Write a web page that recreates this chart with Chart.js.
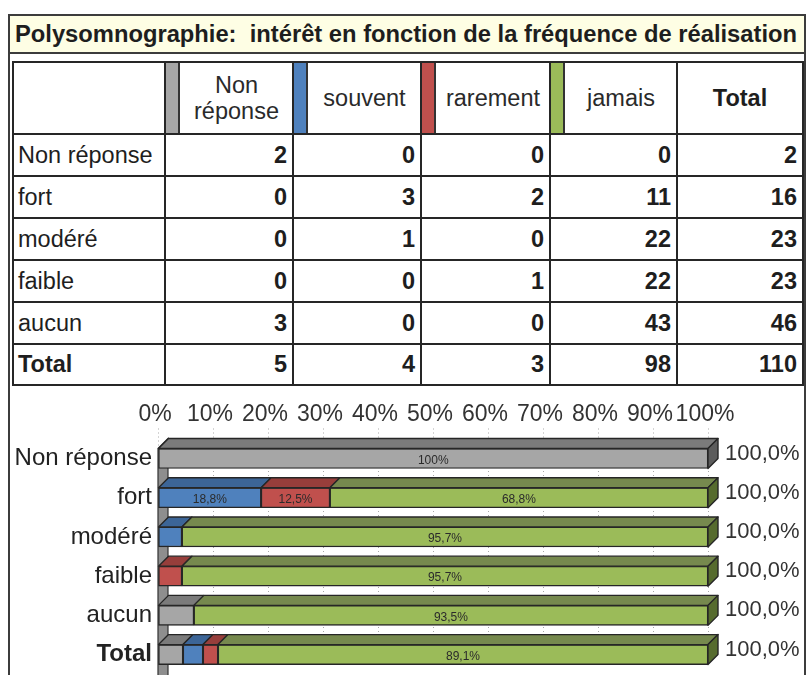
<!DOCTYPE html>
<html>
<head>
<meta charset="utf-8">
<script src="https://cdn.jsdelivr.net/npm/chart.js@4.4.1/dist/chart.umd.min.js"></script>
<style>
  html,body{margin:0;padding:0;background:#fff;}
  body{width:808px;height:675px;overflow:hidden;position:relative;font-family:"Liberation Sans",Arial,sans-serif;color:#1e1e1e;}
  #frame{position:absolute;left:8px;top:14px;width:798px;height:720px;border:2px solid #3c3c3c;border-bottom:none;box-sizing:border-box;}
  #titlebar{position:absolute;left:10px;top:16px;width:794px;height:36px;background:#FEFEE4;border-bottom:2px solid #3c3c3c;}
  #title{position:absolute;left:5px;top:0;height:36px;line-height:36px;white-space:pre;font-family:"Liberation Sans Narrow","Arial Narrow","Liberation Sans",Arial,sans-serif;font-weight:bold;font-size:23px;color:#1e1e1e;transform-origin:0 50%;}
  .ln{position:absolute;background:#262626;}
  .cell{position:absolute;display:flex;align-items:center;font-size:23.5px;white-space:nowrap;}
  .hdr{justify-content:center;text-align:center;line-height:26px;color:#2a2a2a;}
  .num{justify-content:flex-end;font-weight:bold;}
  .key{position:absolute;border-right:2px solid #333;box-sizing:border-box;}
  #chartWrap{position:absolute;left:0;top:390px;width:808px;height:285px;}
</style>
</head>
<body>
<div id="frame"></div>
<div id="titlebar"><div id="title">Polysomnographie:  intérêt en fonction de la fréquence de réalisation</div></div>
<div id="table"></div>
<div id="chartWrap"><canvas id="c" width="808" height="285"></canvas></div>
<script>
// ---- data ----
const categories = ['Non réponse', 'fort', 'modéré', 'faible', 'aucun', 'Total'];
const seriesNames = ['Non réponse', 'souvent', 'rarement', 'jamais'];
const headerLabels = ['Non<br>réponse', 'souvent', 'rarement', 'jamais', 'Total'];
const nonReponse = [2, 0, 0, 0, 3, 5];
const souvent    = [0, 3, 1, 0, 0, 4];
const rarement   = [0, 2, 0, 1, 0, 3];
const jamais     = [0, 11, 22, 22, 43, 98];
const totals     = [2, 16, 23, 23, 46, 110];
const seriesValues = [nonReponse, souvent, rarement, jamais];

// ---- styles ----
const frontColors = ['#A6A6A6', '#4F81BD', '#C0504D', '#9BBB59'];
const topColors   = ['#7B7B7B', '#3C6597', '#973E3B', '#76894E'];
const sideColors  = ['#5C5C5C', '#2D4D73', '#712E2C', '#566B2E'];

// ---- title fit ----
const t = document.getElementById('title');
const tw = t.getBoundingClientRect().width;
t.style.transform = 'scaleX(' + (782 / tw) + ')';

// ---- table ----
const colX = [13, 165, 293, 421, 550, 677, 803];
const rowY = [62, 134, 176, 218, 260, 302, 344, 385];
const tbl = document.getElementById('table');
function add(cls, css, html) {
  const d = document.createElement('div');
  d.className = cls;
  Object.assign(d.style, css);
  if (html !== undefined) d.innerHTML = html;
  tbl.appendChild(d);
  return d;
}
for (let s = 0; s < seriesNames.length; s++) {
  add('key', {left: (colX[s + 1] + 1) + 'px', top: (rowY[0] + 1) + 'px', width: '14px',
    height: (rowY[1] - rowY[0] - 2) + 'px', background: frontColors[s]});
  add('cell hdr', {left: (colX[s + 1] + 15) + 'px', top: rowY[0] + 'px',
    width: (colX[s + 2] - colX[s + 1] - 15) + 'px', height: (rowY[1] - rowY[0]) + 'px'}, headerLabels[s]);
}
add('cell hdr', {left: colX[5] + 'px', top: rowY[0] + 'px', width: (colX[6] - colX[5]) + 'px',
  height: (rowY[1] - rowY[0]) + 'px', fontWeight: 'bold', color: '#1e1e1e'}, headerLabels[4]);
for (let r = 0; r < categories.length; r++) {
  const top = rowY[r + 1], h = rowY[r + 2] - rowY[r + 1];
  add('cell', {left: (colX[0] + 5) + 'px', top: top + 'px', height: h + 'px',
    fontWeight: r === categories.length - 1 ? 'bold' : 'normal'}, categories[r]);
  const vals = seriesValues.map(a => a[r]).concat([totals[r]]);
  vals.forEach((v, c) => {
    add('cell num', {left: colX[c + 1] + 'px', top: top + 'px', width: (colX[c + 2] - colX[c + 1] - 6) + 'px',
      height: h + 'px'}, String(v));
  });
}
colX.forEach(x => add('ln', {left: (x - 1) + 'px', top: (rowY[0] - 1) + 'px', width: '2px',
  height: (rowY[rowY.length - 1] - rowY[0] + 2) + 'px'}));
rowY.forEach(y => add('ln', {left: (colX[0] - 1) + 'px', top: (y - 1) + 'px',
  width: (colX[colX.length - 1] - colX[0] + 2) + 'px', height: '2px'}));

// ---- chart ----
const pct = seriesValues.map(arr => arr.map((v, i) => v / totals[i] * 100));
const depth = 10;
const fmtPct = v => {
  const r = Math.round(v * 10) / 10;
  return (Number.isInteger(r) ? String(r) : r.toFixed(1).replace('.', ',')) + '%';
};

const threeD = {
  id: 'threeD',
  beforeDatasetsDraw(chart) {
    const {ctx, scales: {x, y}} = chart;
    const x0 = x.getPixelForValue(0);
    const firstTop = y.getPixelForValue(0) - 10;
    ctx.save();
    ctx.beginPath();
    ctx.moveTo(x0, firstTop);
    ctx.lineTo(x0 + depth, firstTop - depth);
    ctx.lineTo(x0 + depth, chart.height + 20);
    ctx.lineTo(x0, chart.height + 20);
    ctx.closePath();
    ctx.fillStyle = '#8E8E8E';
    ctx.fill();
    ctx.lineWidth = 1.2;
    ctx.strokeStyle = '#333';
    ctx.stroke();
    ctx.restore();
  },
  afterDatasetsDraw(chart) {
    const {ctx, scales: {x}} = chart;
    ctx.save();
    ctx.lineWidth = 1.4;
    ctx.strokeStyle = '#262626';
    ctx.lineJoin = 'round';
    for (let i = 0; i < categories.length; i++) {
      let last = -1;
      for (let s = 0; s < seriesValues.length; s++) {
        if (seriesValues[s][i] <= 0) continue;
        last = s;
        const el = chart.getDatasetMeta(s).data[i];
        const l = Math.min(el.x, el.base), r = Math.max(el.x, el.base);
        const top = el.y - el.height / 2;
        ctx.beginPath();
        ctx.moveTo(l, top); ctx.lineTo(r, top);
        ctx.lineTo(r + depth, top - depth); ctx.lineTo(l + depth, top - depth);
        ctx.closePath();
        ctx.fillStyle = topColors[s];
        ctx.fill(); ctx.stroke();
      }
      if (last >= 0) {
        const el = chart.getDatasetMeta(last).data[i];
        const r = Math.max(el.x, el.base);
        const top = el.y - el.height / 2, bot = el.y + el.height / 2;
        ctx.beginPath();
        ctx.moveTo(r, top); ctx.lineTo(r + depth, top - depth);
        ctx.lineTo(r + depth, bot - depth); ctx.lineTo(r, bot);
        ctx.closePath();
        ctx.fillStyle = sideColors[last];
        ctx.fill(); ctx.stroke();
        const sum = seriesValues.reduce((a, arr) => a + arr[i], 0) / totals[i] * 100;
        ctx.fillStyle = '#333';
        ctx.font = '22px "Liberation Sans", Arial, sans-serif';
        ctx.textAlign = 'left';
        ctx.textBaseline = 'middle';
        ctx.fillText(sum.toFixed(1).replace('.', ',') + '%', x.getPixelForValue(100) + depth + 7, el.y - 5);
      }
      for (let s = 0; s < seriesValues.length; s++) {
        const p = pct[s][i];
        if (p < 10) continue;
        const el = chart.getDatasetMeta(s).data[i];
        ctx.fillStyle = '#2b2b2b';
        ctx.font = '12px "Liberation Sans", Arial, sans-serif';
        ctx.textAlign = 'center';
        ctx.textBaseline = 'middle';
        ctx.fillText(fmtPct(p), (el.x + el.base) / 2, el.y + 2);
      }
    }
    ctx.restore();
  }
};

new Chart(document.getElementById('c'), {
  type: 'bar',
  data: {
    labels: categories,
    datasets: seriesNames.map((n, s) => ({
      label: n,
      data: pct[s],
      backgroundColor: frontColors[s],
      borderColor: '#262626',
      borderWidth: 1.4,
      borderSkipped: false,
      barThickness: 20,
      clip: false
    }))
  },
  options: {
    indexAxis: 'y',
    responsive: false,
    animation: false,
    devicePixelRatio: 1,
    layout: {padding: {left: 0, right: 100, top: 0, bottom: 17.5}},
    plugins: {legend: {display: false}, tooltip: {enabled: false}, title: {display: false}},
    scales: {
      x: {
        position: 'top',
        stacked: true,
        min: 0, max: 100,
        ticks: {stepSize: 10, callback: v => v + '%', color: '#333', padding: 0,
          maxRotation: 0, minRotation: 0, autoSkip: false, labelOffset: -3,
          font: {size: 23, family: '"Liberation Sans", Arial, sans-serif'}},
        grid: {color: '#A8A8A8', lineWidth: 1, drawTicks: true, tickLength: 30,
          tickColor: '#A8A8A8', tickBorderDash: [1, 3]},
        border: {display: false, dash: [1, 3]},
        afterFit: sc => { sc.height = 68.5; }
      },
      y: {
        stacked: true,
        offset: false,
        grid: {display: false, drawTicks: false},
        border: {display: false},
        ticks: {autoSkip: false, padding: 6, color: '#222',
          font: c => ({size: 24, family: '"Liberation Sans", Arial, sans-serif',
            weight: c.index === categories.length - 1 ? 'bold' : 'normal'})},
        afterFit: sc => { sc.width = 158; }
      }
    }
  },
  plugins: [threeD]
});
</script>
</body>
</html>
